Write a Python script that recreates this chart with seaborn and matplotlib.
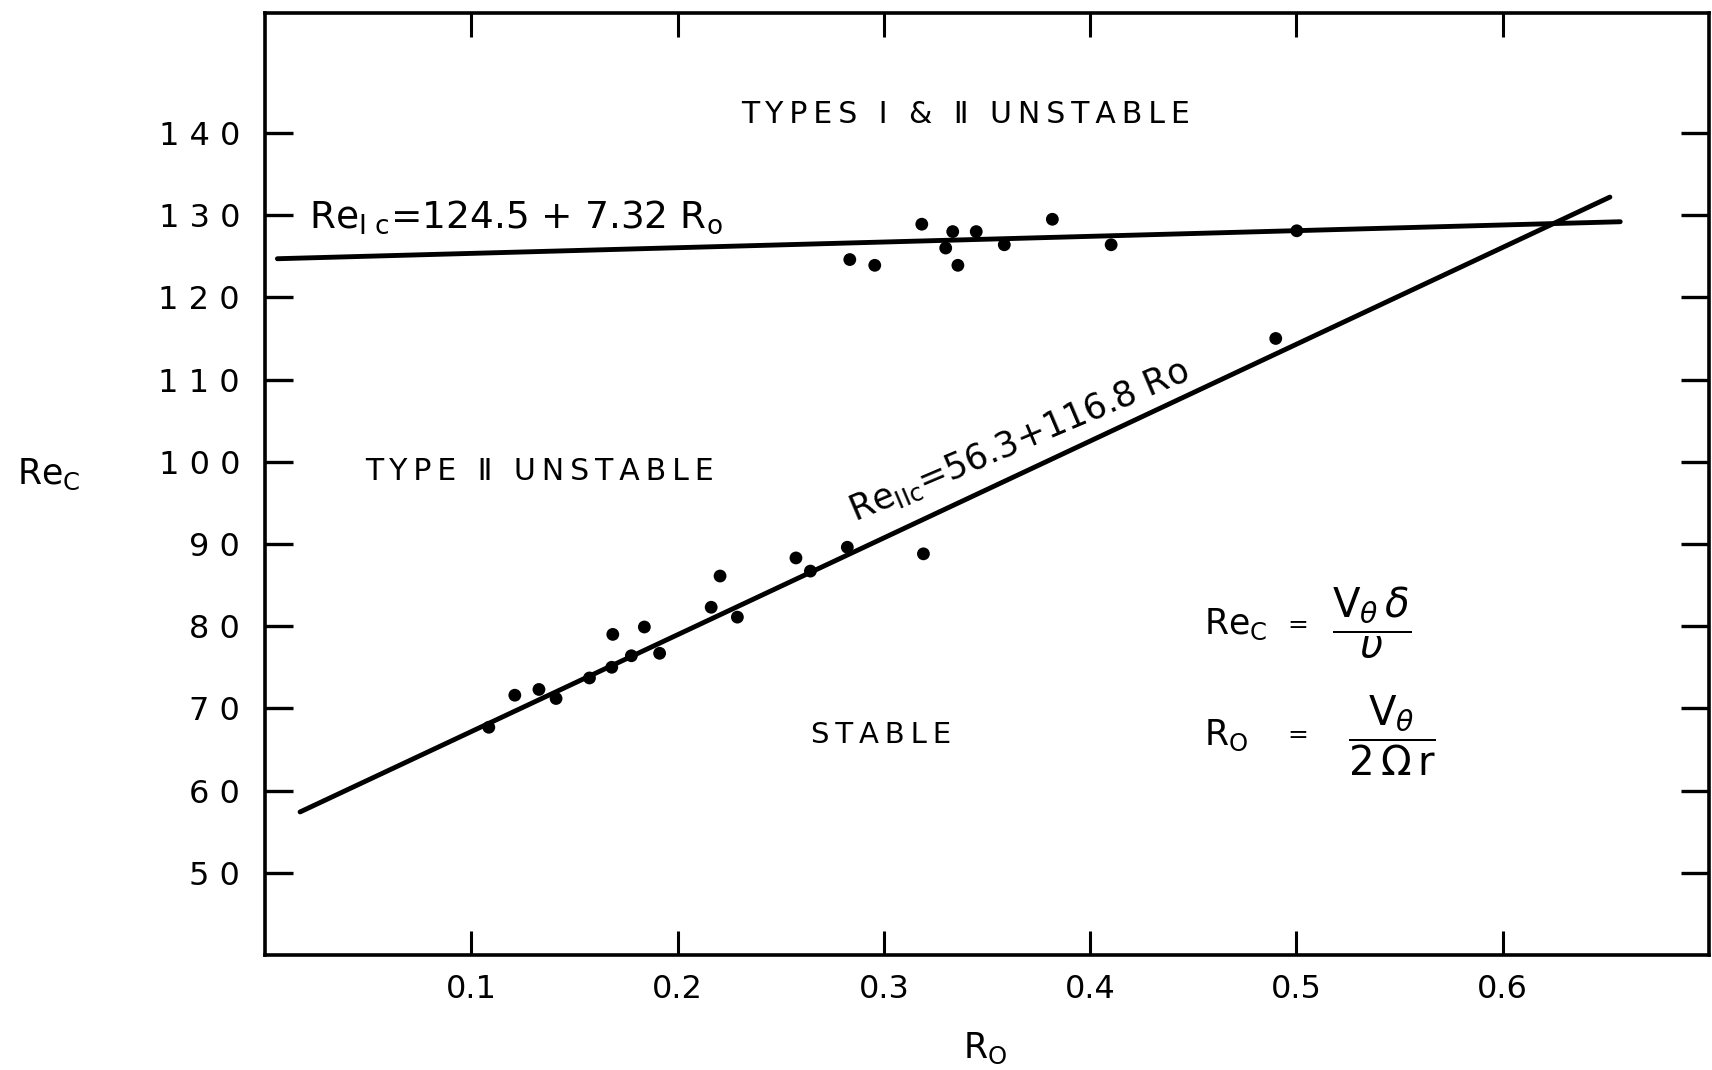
import matplotlib
matplotlib.use("Agg")
import matplotlib.pyplot as plt
import seaborn as sns

# data (Ro, Re_c)
type1_ro = [0.2835, 0.2956, 0.3184, 0.3300, 0.3334, 0.3359, 0.3448, 0.3584, 0.3817, 0.4102, 0.5002]
type1_re = [124.6, 123.9, 128.9, 126.0, 128.0, 123.9, 128.0, 126.4, 129.5, 126.4, 128.1]

type2_ro = [0.1085, 0.1211, 0.1328, 0.1411, 0.1573, 0.1681, 0.1686, 0.1776, 0.1839, 0.1913,
            0.2163, 0.2206, 0.2290, 0.2574, 0.2644, 0.2823, 0.3192, 0.4900]
type2_re = [67.7, 71.6, 72.3, 71.2, 73.7, 75.0, 79.0, 76.4, 79.9, 76.7,
            82.3, 86.1, 81.1, 88.3, 86.7, 89.6, 88.8, 115.0]

# fitted lines, end points as drawn
line1_ro = [0.006, 0.657]
line1_re = [124.7, 129.2]
line2_ro = [0.017, 0.652]
line2_re = [57.4, 132.2]

x_ticks = [0.1, 0.2, 0.3, 0.4, 0.5, 0.6]
x_tick_labels = ["0.1", "0.2", "0.3", "0.4", "0.5", "0.6"]
y_ticks = [50, 60, 70, 80, 90, 100, 110, 120, 130, 140]
y_tick_labels = ["5 0", "6 0", "7 0", "8 0", "9 0", "1 0 0", "1 1 0", "1 2 0", "1 3 0", "1 4 0"]


def spaced(s, gap="\u2009"):
    """Spread out lettering a bit, like the stencil text in the original."""
    return gap.join(s)


sns.set_style("ticks")
plt.rcParams["font.family"] = ["DejaVu Sans"]
plt.rcParams["mathtext.fontset"] = "dejavusans"
for key in ["text.color", "axes.labelcolor", "xtick.color", "ytick.color", "axes.edgecolor"]:
    plt.rcParams[key] = "black"

fig = plt.figure(figsize=(17.12, 10.70), dpi=100)
ax = fig.add_axes([0.1548, 0.1075, 0.8434, 0.8804])

sns.lineplot(x=line1_ro, y=line1_re, color="black", lw=3.5, ax=ax,
             solid_capstyle="round")
sns.lineplot(x=line2_ro, y=line2_re, color="black", lw=3.5, ax=ax,
             solid_capstyle="round")
sns.scatterplot(x=type1_ro, y=type1_re, color="black", s=85, edgecolor="none", ax=ax, zorder=3)
sns.scatterplot(x=type2_ro, y=type2_re, color="black", s=85, edgecolor="none", ax=ax, zorder=3)

ax.set_xlim(0, 0.7)
ax.set_ylim(40, 154.6)
ax.set_xticks(x_ticks)
ax.set_xticklabels(x_tick_labels)
ax.set_yticks(y_ticks)
ax.set_yticklabels(y_tick_labels)

for sp in ax.spines.values():
    sp.set_visible(True)
    sp.set_linewidth(2.6)
    sp.set_color("black")

ax.tick_params(axis="x", direction="in", length=17, width=2.2, pad=14,
               labelsize=23, top=True, bottom=True)
ax.tick_params(axis="y", direction="in", length=20, width=2.4, pad=18,
               labelsize=23, left=True, right=True)

ax.set_xlabel(r"R$_\mathrm{O}$", fontsize=25)
ax.xaxis.set_label_coords(0.4986, -0.08)
ax.set_ylabel(r"Re$_\mathrm{C}$", fontsize=25, rotation=0, va="center", ha="center")
ax.yaxis.set_label_coords(-0.15, 0.51)

# region labels
ax.text(0.3397, 142.2, spaced("TYPES \u2160 & \u2161 UNSTABLE"), fontsize=21.5,
        ha="center", va="center")
ax.text(0.1329, 98.8, spaced("TYPE \u2161 UNSTABLE"), fontsize=21.5,
        ha="center", va="center")
ax.text(0.2988, 66.7, spaced("STABLE"), fontsize=21, ha="center", va="center")

# fitted equations
ax.text(0.0215, 128.5, r"Re$_{\mathrm{I\ c}}$=124.5 + 7.32 R$_\mathrm{o}$", fontsize=27,
        ha="left", va="baseline")
ax.text(0.286, 92.7, r"Re$_{\mathrm{IIc}}$=56.3+116.8 Ro", fontsize=25,
        ha="left", va="baseline", rotation=23, rotation_mode="anchor")

# definitions
ax.text(0.4553, 80.2, r"Re$_\mathrm{C}$", fontsize=25, ha="left", va="center")
ax.text(0.5005, 80.2, "=", fontsize=18, ha="center", va="center")
ax.text(0.5365, 80.4, r"$\dfrac{\mathrm{V}_{\theta}\,\delta}{\upsilon}$", fontsize=29,
        ha="center", va="center")
ax.text(0.4553, 66.7, r"R$_\mathrm{O}$", fontsize=25, ha="left", va="center")
ax.text(0.5005, 66.7, "=", fontsize=18, ha="center", va="center")
ax.text(0.5464, 66.7, r"$\dfrac{\mathrm{V}_{\theta}}{\mathrm{2\,\Omega\,r}}$", fontsize=29,
        ha="center", va="center")

fig.savefig("out.png", dpi=100, facecolor="white")
